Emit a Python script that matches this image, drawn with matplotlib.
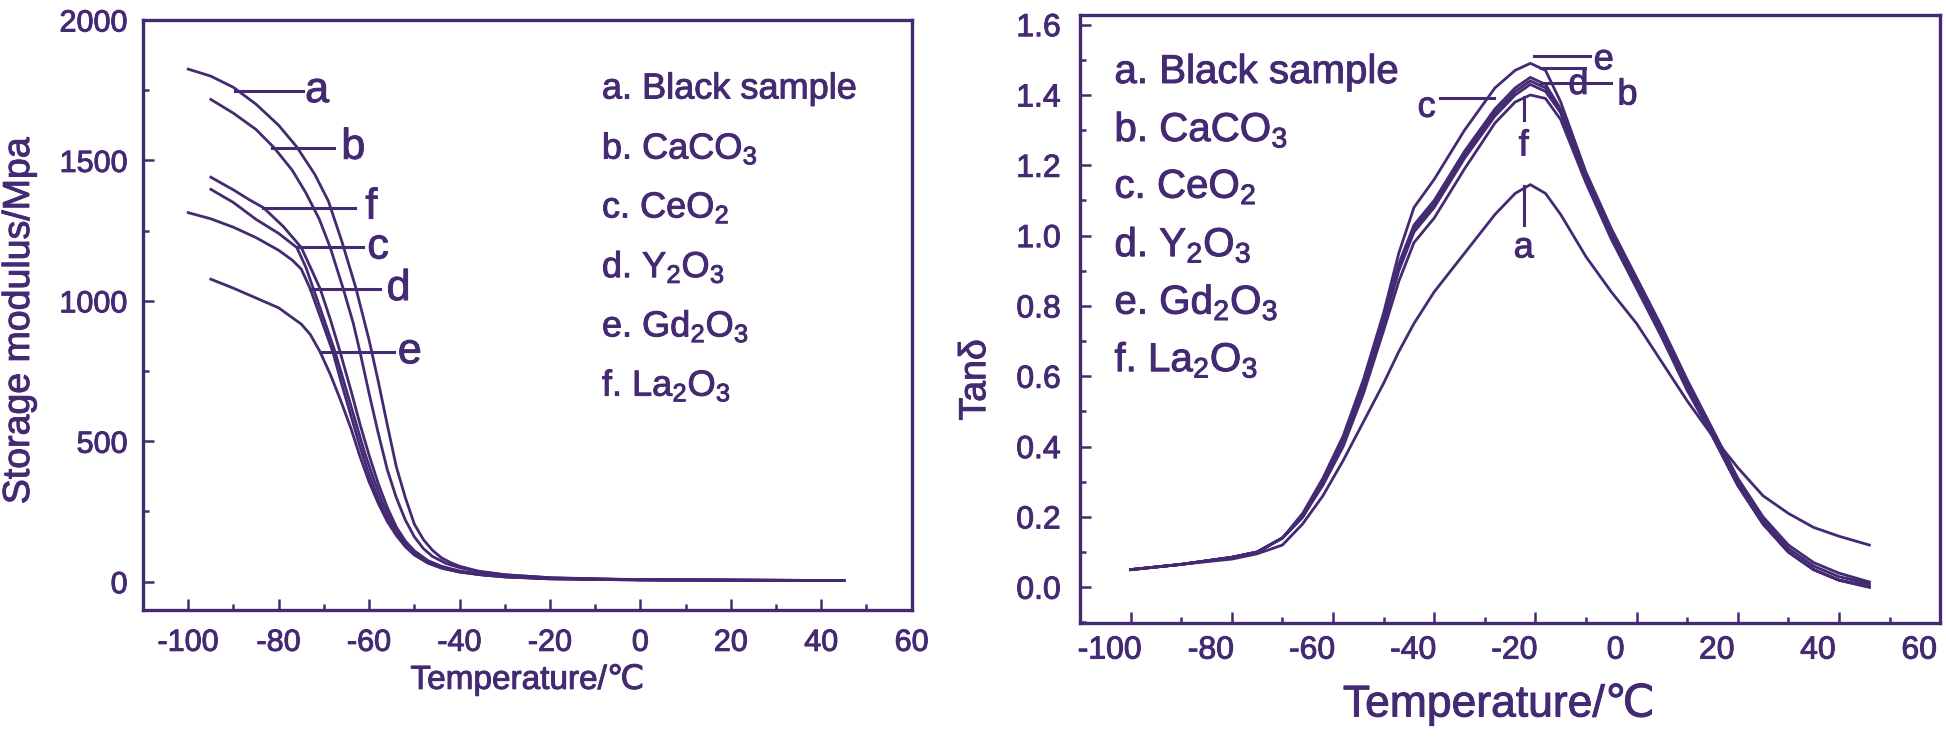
import matplotlib.pyplot as plt
import matplotlib.patheffects as pe
from matplotlib.ticker import MultipleLocator
from matplotlib.transforms import ScaledTranslation

plt.rcParams.update({
    'font.family': ['Liberation Sans', 'DejaVu Sans'],
    'mathtext.fontset': 'custom',
    'mathtext.rm': 'Liberation Sans',
    'mathtext.it': 'Liberation Sans',
    'axes.unicode_minus': False,
})

INK = '#432a72'
BOLDEN = [pe.withStroke(linewidth=0.7, foreground=INK)]

# ---- storage modulus (MPa) vs temperature
sm_t_a = [-100, -95, -90, -85, -80, -76, -72, -69, -66, -63, -60, -58, -56, -54, -52, -50, -48, -46, -44, -42, -40, -36, -30, -20, -10, 0, 20, 45]
sm_a = [1825, 1800, 1760, 1700, 1625, 1548, 1450, 1355, 1210, 1050, 860, 715, 560, 410, 300, 205, 150, 112, 85, 68, 55, 38, 25, 14, 9, 7, 5, 4]
sm_t_b = [-95, -90, -85, -81, -77, -74, -71, -68.6, -65.7, -63.5, -62, -60, -58, -56, -54, -52, -50, -48, -46, -43, -40, -35, -30, -20, 0, 45]
sm_b = [1717, 1668, 1610, 1545, 1465, 1385, 1290, 1190, 1042, 920, 817, 670, 530, 400, 300, 220, 160, 118, 90, 65, 50, 34, 24, 14, 7, 4]
sm_t_c = [-95, -90, -85, -80, -76, -74, -72.3, -70, -67.5, -65, -63, -61, -59, -57, -55, -53, -51, -49, -46, -43, -40, -35, -30, -20, 0, 45]
sm_c = [1397, 1350, 1290, 1240, 1190, 1120, 1042, 935, 817, 680, 570, 460, 365, 280, 210, 155, 115, 88, 62, 46, 35, 25, 18, 11, 7, 4]
sm_t_d = [-100, -95, -90, -85, -80, -77, -75, -73, -70.5, -68, -66, -64, -62, -60, -58, -56, -54, -52, -50, -47, -44, -40, -35, -30, -20, 0, 45]
sm_d = [1314, 1292, 1262, 1225, 1180, 1145, 1113, 1042, 930, 817, 700, 590, 480, 380, 295, 225, 170, 128, 96, 66, 48, 34, 24, 17, 10, 6, 4]
sm_t_e = [-95, -90, -85, -80, -75, -73, -70.8, -68.5, -66.4, -64, -62, -60, -58, -56, -54, -52, -50, -47, -44, -40, -35, -30, -20, 0, 45]
sm_e = [1077, 1045, 1010, 975, 917, 880, 817, 735, 650, 545, 445, 355, 280, 215, 165, 125, 95, 68, 50, 35, 24, 17, 10, 6, 4]
sm_t_f = [-95, -90, -86.5, -83.4, -79, -75, -73, -70.8, -68.5, -66.4, -64, -62, -60, -58, -56, -54, -52, -50, -47, -44, -40, -35, -30, -20, 0, 45]
sm_f = [1440, 1395, 1360, 1332, 1265, 1190, 1120, 1042, 930, 817, 680, 560, 450, 350, 265, 195, 145, 110, 75, 55, 38, 27, 19, 12, 7, 4]

# ---- tan delta vs temperature
td_t = [-100, -90, -80, -75, -70, -66, -62, -58, -54, -50, -47, -44, -40, -34, -28, -24, -21, -18, -15, -10, -5, 0, 5, 10, 15, 20, 25, 30, 35, 40, 46]
td_e = [0.05, 0.065, 0.085, 0.10, 0.14, 0.21, 0.31, 0.43, 0.59, 0.78, 0.95, 1.08, 1.16, 1.30, 1.42, 1.47, 1.49, 1.47, 1.38, 1.18, 1.02, 0.88, 0.74, 0.59, 0.45, 0.31, 0.20, 0.12, 0.07, 0.04, 0.015]
td_d = [0.05, 0.065, 0.085, 0.10, 0.14, 0.20, 0.30, 0.42, 0.57, 0.76, 0.92, 1.03, 1.10, 1.24, 1.36, 1.42, 1.45, 1.43, 1.36, 1.17, 1.01, 0.87, 0.73, 0.58, 0.44, 0.30, 0.19, 0.11, 0.06, 0.03, 0.01]
td_b = [0.05, 0.065, 0.085, 0.10, 0.14, 0.20, 0.30, 0.42, 0.57, 0.76, 0.91, 1.02, 1.09, 1.23, 1.35, 1.41, 1.44, 1.42, 1.35, 1.16, 1.00, 0.86, 0.72, 0.57, 0.43, 0.29, 0.18, 0.10, 0.05, 0.02, 0.0]
td_c = [0.05, 0.065, 0.085, 0.10, 0.14, 0.20, 0.30, 0.41, 0.56, 0.75, 0.90, 1.01, 1.08, 1.22, 1.34, 1.40, 1.43, 1.41, 1.35, 1.16, 1.00, 0.86, 0.72, 0.57, 0.43, 0.29, 0.18, 0.10, 0.05, 0.02, 0.005]
td_f = [0.05, 0.065, 0.085, 0.10, 0.14, 0.20, 0.29, 0.40, 0.55, 0.73, 0.87, 0.98, 1.05, 1.19, 1.32, 1.38, 1.40, 1.39, 1.33, 1.15, 0.99, 0.85, 0.71, 0.56, 0.43, 0.29, 0.18, 0.10, 0.05, 0.02, 0.0]
td_a = [0.05, 0.065, 0.08, 0.095, 0.12, 0.18, 0.26, 0.36, 0.47, 0.58, 0.67, 0.75, 0.84, 0.95, 1.06, 1.12, 1.145, 1.12, 1.06, 0.94, 0.84, 0.75, 0.64, 0.53, 0.43, 0.34, 0.26, 0.21, 0.17, 0.145, 0.12]

legend_txt = ['a. Black sample', r'b. CaCO$_3$', r'c. CeO$_2$',
              r'd. Y$_2$O$_3$', r'e. Gd$_2$O$_3$', r'f. La$_2$O$_3$']

fig = plt.figure(figsize=(19.46, 7.4), dpi=100)
ax1 = fig.add_axes([0.0735, 0.176, 0.395, 0.797])
ax2 = fig.add_axes([0.555, 0.158, 0.442, 0.822])


def style_axes(ax, pad_x, pad_y, size):
    for sp in ax.spines.values():
        sp.set_linewidth(2.4)
        sp.set_color(INK)
    ax.tick_params(which='both', direction='in', colors=INK, top=False, right=False,
                   labelsize=size, width=1.8)
    ax.tick_params(which='major', length=8)
    ax.tick_params(which='minor', length=4)
    ax.tick_params(axis='x', pad=pad_x)
    ax.tick_params(axis='y', pad=pad_y)


def put(ax, *args, **kw):
    t = ax.text(*args, color=INK, **kw)
    t.set_path_effects(BOLDEN)
    return t


# left: storage modulus
for t, v in [(sm_t_a, sm_a), (sm_t_b, sm_b), (sm_t_c, sm_c),
             (sm_t_d, sm_d), (sm_t_e, sm_e), (sm_t_f, sm_f)]:
    ax1.plot(t, v, color=INK, lw=2.0)
ax1.set_xlim(-110, 60)
ax1.set_ylim(-100, 2000)
ax1.xaxis.set_major_locator(MultipleLocator(20))
ax1.xaxis.set_minor_locator(MultipleLocator(10))
ax1.yaxis.set_major_locator(MultipleLocator(500))
ax1.yaxis.set_minor_locator(MultipleLocator(250))
style_axes(ax1, 13, 11, 22)
ax1.set_xlabel('Temperature/℃', fontsize=24, color=INK)
ax1.set_ylabel('Storage modulus/Mpa', fontsize=27, color=INK)
ax1.xaxis.set_label_coords(0.5, -0.092)
ax1.yaxis.set_label_coords(-0.138, 0.49)

# curve tags: (x0, x1, y, text x, letter)
tags_l = [(-89.6, -74.6, 1747, -71.5, 'a'), (-81.5, -67.8, 1545, -63.5, 'b'),
          (-83.4, -63.1, 1332, -59.5, 'f'), (-76, -61.3, 1190, -58, 'c'),
          (-73, -57.6, 1042, -53.5, 'd'), (-70.8, -54.6, 817, -51, 'e')]
for x0, x1, y, tx, s in tags_l:
    ax1.plot([x0, x1], [y, y], color=INK, lw=2.2)
    put(ax1, tx, y, s, fontsize=31, ha='center', va='center')

for i, s in enumerate(legend_txt):
    put(ax1, 0.597, 0.883 - i * 0.1005, s, transform=ax1.transAxes,
        fontsize=26, va='center', ha='left')

# right: tan delta
for v in [td_a, td_b, td_c, td_d, td_e, td_f]:
    ax2.plot(td_t, v, color=INK, lw=2.0)
ax2.set_xlim(-110, 60)
ax2.set_ylim(-0.102, 1.628)
ax2.xaxis.set_major_locator(MultipleLocator(20))
ax2.xaxis.set_minor_locator(MultipleLocator(10))
ax2.yaxis.set_major_locator(MultipleLocator(0.2))
ax2.yaxis.set_minor_locator(MultipleLocator(0.1))
ax2.yaxis.set_major_formatter(plt.FormatStrFormatter('%.1f'))
style_axes(ax2, 9, 14, 23)
ax2.set_xlabel('Temperature/℃', fontsize=32, color=INK)
ax2.set_ylabel('Tanδ', fontsize=27, color=INK)
ax2.xaxis.set_label_coords(0.487, -0.1)
ax2.yaxis.set_label_coords(-0.101, 0.40)
shift = ScaledTranslation(-0.21, 0, fig.dpi_scale_trans)
for lab in ax2.get_xticklabels():
    lab.set_transform(lab.get_transform() + shift)

for ax in (ax1, ax2):
    ax.xaxis.label.set_path_effects(BOLDEN)
    ax.yaxis.label.set_path_effects(BOLDEN)
    for lab in ax.get_xticklabels() + ax.get_yticklabels():
        lab.set_path_effects(BOLDEN)

# horizontal tags
tags_r = [(-20.2, -9.2, 1.51, -6.5, 1.50, 'e'), (-18.9, -10.2, 1.476, -11.5, 1.43, 'd'),
          (-18.9, -5, 1.434, -1.8, 1.40, 'b'), (-38.8, -28.1, 1.39, -41.5, 1.365, 'c')]
for x0, x1, y, tx, ty, s in tags_r:
    ax2.plot([x0, x1], [y, y], color=INK, lw=2.2)
    put(ax2, tx, ty, s, fontsize=26, ha='center', va='center')
# vertical tags
for y0, y1, ty, s in [(1.395, 1.33, 1.255, 'f'), (1.14, 1.03, 0.965, 'a')]:
    ax2.plot([-22.3, -22.3], [y0, y1], color=INK, lw=2.2)
    put(ax2, -22.3, ty, s, fontsize=26, ha='center', va='center')

for i, s in enumerate(legend_txt):
    put(ax2, 0.04, 0.906 - i * 0.0946, s, transform=ax2.transAxes,
        fontsize=29, va='center', ha='left')

fig.savefig('out.png', dpi=100)
